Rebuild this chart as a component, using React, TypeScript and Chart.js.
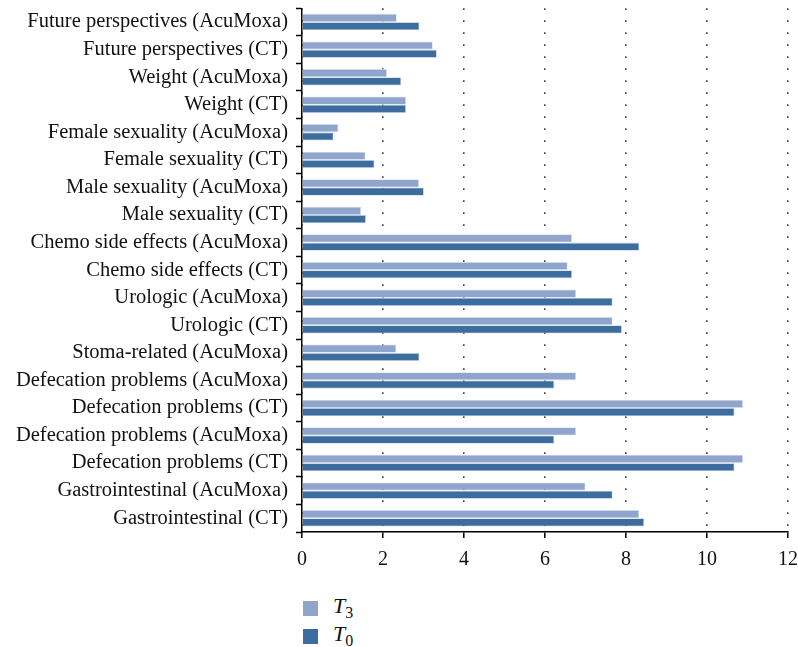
import React, { useEffect, useRef } from "react";
import { Chart, registerables } from "chart.js";

Chart.register(...registerables);

const categories: string[] = [
  "Future perspectives (AcuMoxa)",
  "Future perspectives (CT)",
  "Weight (AcuMoxa)",
  "Weight (CT)",
  "Female sexuality (AcuMoxa)",
  "Female sexuality (CT)",
  "Male sexuality (AcuMoxa)",
  "Male sexuality (CT)",
  "Chemo side effects (AcuMoxa)",
  "Chemo side effects (CT)",
  "Urologic (AcuMoxa)",
  "Urologic (CT)",
  "Stoma-related (AcuMoxa)",
  "Defecation problems (AcuMoxa)",
  "Defecation problems (CT)",
  "Defecation problems (AcuMoxa)",
  "Defecation problems (CT)",
  "Gastrointestinal (AcuMoxa)",
  "Gastrointestinal (CT)",
];

const t3Values: number[] = [
  2.34, 3.23, 2.1, 2.57, 0.9, 1.57, 2.89, 1.46, 6.67, 6.56, 6.77, 7.67, 2.33, 6.77, 10.89, 6.77, 10.89, 7.0, 8.33,
];

const t0Values: number[] = [
  2.9, 3.33, 2.45, 2.57, 0.78, 1.79, 3.01, 1.58, 8.33, 6.67, 7.67, 7.9, 2.9, 6.23, 10.68, 6.23, 10.68, 7.67, 8.45,
];

const xMin = 0;
const xMax = 12;
const xStep = 2;

const T3_COLOR = "#90a5cb";
const T0_COLOR = "#3d6d9f";
const FONT = "'Liberation Serif', 'DejaVu Serif', serif";

export default function App() {
  const canvasRef = useRef<HTMLCanvasElement | null>(null);

  useEffect(() => {
    if (!canvasRef.current) return;
    const chart = new Chart(canvasRef.current, {
      type: "bar",
      data: {
        labels: categories,
        datasets: [
          {
            label: "T3",
            data: t3Values,
            backgroundColor: T3_COLOR,
            borderColor: "#dbe2ee",
            borderWidth: 0.8,
            categoryPercentage: 0.6,
            barPercentage: 1,
          },
          {
            label: "T0",
            data: t0Values,
            backgroundColor: T0_COLOR,
            borderColor: "#cdd8e8",
            borderWidth: 0.8,
            categoryPercentage: 0.6,
            barPercentage: 1,
          },
        ],
      },
      options: {
        indexAxis: "y",
        animation: false,
        responsive: false,
        maintainAspectRatio: false,
        layout: { padding: { top: 0, right: 0, left: 0, bottom: 0 } },
        plugins: {
          legend: { display: false },
          tooltip: { enabled: false },
        },
        scales: {
          x: {
            type: "linear",
            min: xMin,
            max: xMax,
            ticks: {
              stepSize: xStep,
              color: "#111",
              font: { family: FONT, size: 20 },
              padding: 10,
            },
            grid: {
              color: "#444",
              lineWidth: 1.6,
              drawTicks: true,
              tickLength: 6,
              tickColor: "#000",
              tickBorderDash: [],
              tickWidth: 1.5,
            } as any,
            border: { display: true, color: "#000", width: 1.5, dash: [1.6, 10.4] },
            afterFit: (scale: any) => {
              scale.height = 38;
            },
          },
          y: {
            type: "category",
            ticks: {
              color: "#111",
              font: { family: FONT, size: 20.5 },
              padding: 8,
              autoSkip: false,
            },
            grid: {
              drawOnChartArea: false,
              drawTicks: true,
              tickLength: 6,
              tickColor: "#000",
              tickWidth: 1.5,
            },
            border: { display: true, color: "#000", width: 1.5 },
            afterFit: (scale: any) => {
              scale.width = 302;
            },
          },
        },
      },
    });
    return () => chart.destroy();
  }, []);

  const legendItem = (color: string, sub: string) => (
    <div style={{ display: "flex", alignItems: "center", height: 28 }}>
      <div style={{ width: 15, height: 15, background: color, marginRight: 15 }} />
      <span style={{ fontFamily: FONT, fontSize: 22, color: "#111" }}>
        <i>T</i>
        <sub style={{ fontSize: 16 }}>{sub}</sub>
      </span>
    </div>
  );

  return (
    <div style={{ position: "fixed", left: 0, top: 0, width: 798, height: 647, background: "#fff", overflow: "hidden" }}>
      <canvas
        ref={canvasRef}
        width={808}
        height={582}
        style={{ display: "block", marginTop: -12 }}
      />
      <div style={{ position: "absolute", left: 303, top: 594 }}>
        {legendItem(T3_COLOR, "3")}
        {legendItem(T0_COLOR, "0")}
      </div>
    </div>
  );
}
